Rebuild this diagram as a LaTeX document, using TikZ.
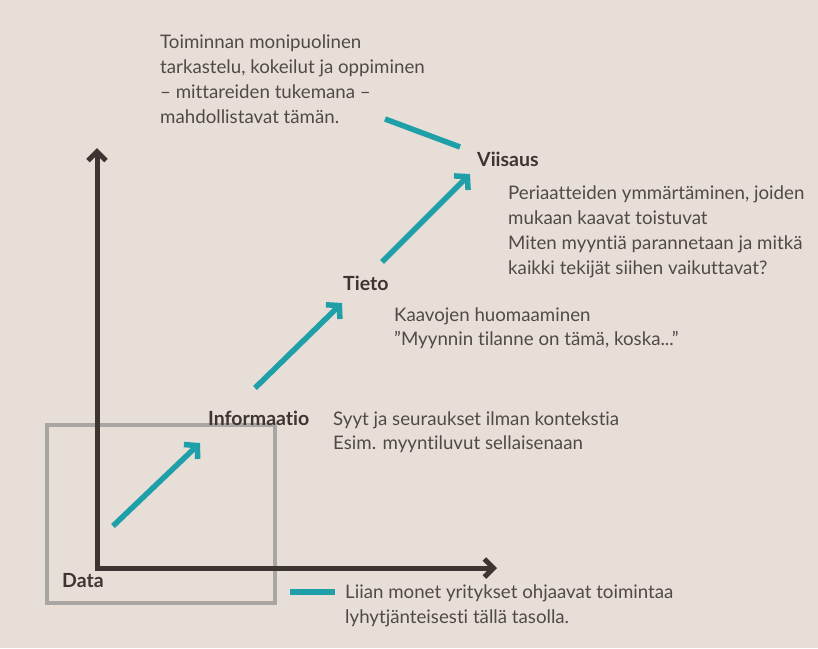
\documentclass[tikz,border=0pt]{standalone}
\usepackage{fontspec}
\setmainfont[Ligatures=NoCommon]{Lato}
\usetikzlibrary{arrows.meta}

\definecolor{paper}{HTML}{E7DED8}
\definecolor{inkdark}{HTML}{3E3532}
\definecolor{arrowteal}{HTML}{1FA0A9}
\definecolor{boxgrey}{HTML}{A9A5A2}

\tikzset{
  stage/.style={font=\bfseries\fontsize{19.5}{22}\selectfont, text=inkdark, anchor=base west, inner sep=0pt},
  note/.style={font=\fontsize{18.7}{25}\selectfont, text=inkdark!90, align=left, anchor=north west, inner sep=0pt},
  climb/.style={arrowteal, line width=5.5pt, -{Straight Barb[length=9pt,width=20pt]}},
  axis/.style={inkdark, line width=5pt},
}

\begin{document}
\begin{tikzpicture}[x=1pt,y=-1pt]

  % Paper
  \fill[paper] (0,0) rectangle (818,648);
  \useasboundingbox (0,0) rectangle (818,648);

  % Box around the data level
  \draw[boxgrey, line width=3.5pt] (47,425) rectangle (275,603);

  % Axes
  \coordinate (origin) at (97,568);
  \coordinate (ytip) at (97,148);
  \coordinate (xtip) at (497,568);
  \draw[axis, {Straight Barb[length=9pt,width=18pt]}-{Straight Barb[length=9pt,width=18pt]}]
    (ytip) -- (origin) -- (xtip);

  % Levels
  \node[stage] (data) at (62,587) {Data};
  \node[stage] (info) at (208,425) {Informaatio};
  \node[stage] (tieto) at (343,290) {Tieto};
  \node[stage] (viisaus) at (477,166) {Viisaus};

  % Arrows between the levels
  \coordinate (a1) at (113,526);
  \coordinate (a1tip) at (200,443);
  \coordinate (a2) at (255,388);
  \coordinate (a2tip) at (342,303);
  \coordinate (a3) at (382,262);
  \coordinate (a3tip) at (470,174);
  \draw[climb] (a1) -- (a1tip);
  \draw[climb] (a2) -- (a2tip);
  \draw[climb] (a3) -- (a3tip);

  % Notes
  \node[note] (topnote) at (160,35) {Toiminnan monipuolinen\\tarkastelu, kokeilut ja oppiminen\\– mittareiden tukemana –\\mahdollistavat tämän.};
  \node[note] (viisausnote) at (508,186) {Periaatteiden ymmärtäminen, joiden\\mukaan kaavat toistuvat\\Miten myyntiä parannetaan ja mitkä\\kaikki tekijät siihen vaikuttavat?};
  \node[note, font=\fontsize{18.7}{24}\selectfont] (tietonote) at (394,308) {Kaavojen huomaaminen\\”Myynnin tilanne on tämä, koska...”};
  \node[note, font=\fontsize{18.7}{24}\selectfont] (infonote) at (333,412) {Syyt ja seuraukset ilman kontekstia\\Esim. myyntiluvut sellaisenaan};
  \node[note] (datanote) at (345,585) {Liian monet yritykset ohjaavat toimintaa\\lyhytjänteisesti tällä tasolla.};

  % Teal marks pointing to the notes
  \coordinate (m1) at (385,119);
  \coordinate (m1end) at (460,147);
  \draw[arrowteal, line width=5.5pt] (m1) -- (m1end);
  \coordinate (m2) at (290,592);
  \coordinate (m2end) at (335,592);
  \draw[arrowteal, line width=6pt] (m2) -- (m2end);

\end{tikzpicture}
\end{document}
